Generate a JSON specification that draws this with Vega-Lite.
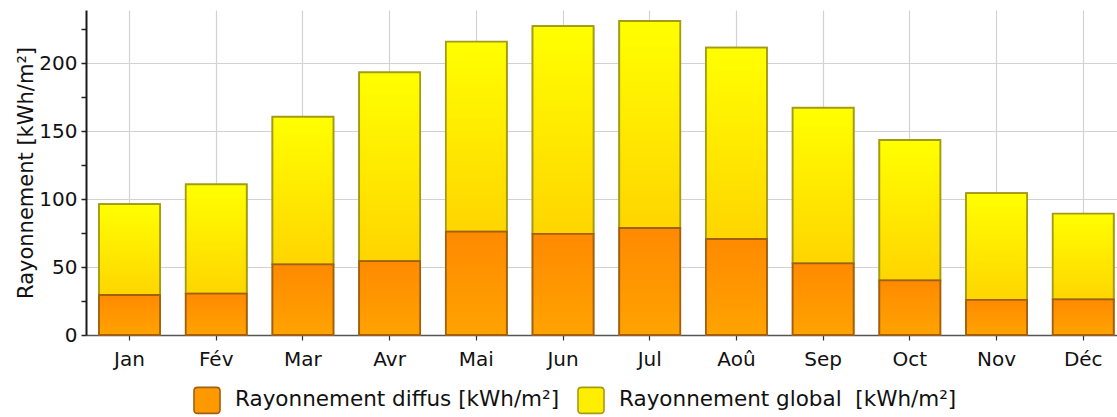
{
  "$schema": "https://vega.github.io/schema/vega-lite/v6.json",
  "width": 1031,
  "height": 325,
  "autosize": {"type": "none"},
  "padding": {"left": 86, "top": 10, "right": 0, "bottom": 82},
  "background": "white",
  "config": {
    "view": {"stroke": null},
    "font": "DejaVu Sans"
  },
  "data": {
    "values": [
      {"mois": "Jan", "diffus": 29.4, "global": 96.3},
      {"mois": "Fév", "diffus": 30.4, "global": 110.8},
      {"mois": "Mar", "diffus": 52.0, "global": 160.5},
      {"mois": "Avr", "diffus": 54.4, "global": 193.1},
      {"mois": "Mai", "diffus": 76.0, "global": 215.7},
      {"mois": "Jun", "diffus": 74.3, "global": 227.2},
      {"mois": "Jul", "diffus": 78.7, "global": 230.9},
      {"mois": "Aoû", "diffus": 70.6, "global": 211.3},
      {"mois": "Sep", "diffus": 52.7, "global": 167.1},
      {"mois": "Oct", "diffus": 40.1, "global": 143.4},
      {"mois": "Nov", "diffus": 25.9, "global": 104.3},
      {"mois": "Déc", "diffus": 26.2, "global": 89.2}
    ]
  },
  "encoding": {
    "x": {
      "field": "mois",
      "type": "nominal",
      "sort": null,
      "scale": {"type": "band", "paddingInner": 0.2964, "paddingOuter": 0.094, "align": 0.8},
      "axis": {
        "title": null,
        "labelAngle": 0,
        "labelFontSize": 20,
        "labelColor": "#111111",
        "labelPadding": 9,
        "tickSize": 5,
        "tickColor": "#333333",
        "tickWidth": 1.2,
        "domainColor": "#555555",
        "domainWidth": 1.5,
        "grid": true,
        "gridColor": "#d2d2d2",
        "gridWidth": 1.2
      }
    },
    "y": {
      "field": "diffus",
      "type": "quantitative",
      "stack": null,
      "scale": {"domain": [0, 239], "nice": false, "zero": true},
      "axis": {
        "title": "Rayonnement [kWh/m²]",
        "titleFontSize": 21,
        "titleFontWeight": "normal",
        "titleColor": "#111111",
        "titleX": -54,
        "titleBaseline": "alphabetic",
        "values": [0, 25, 50, 75, 100, 125, 150, 175, 200, 225],
        "labelExpr": "datum.value % 50 === 0 ? datum.label : ''",
        "labelFontSize": 20,
        "labelColor": "#111111",
        "labelPadding": 4,
        "tickSize": 5,
        "tickColor": "#222222",
        "tickWidth": 1.5,
        "domainColor": "#1a1a1a",
        "domainWidth": 2,
        "grid": true,
        "gridColor": "#d2d2d2",
        "gridWidth": 1.2,
        "gridOpacity": {"condition": {"test": "datum.value % 50 === 0 && datum.value > 0", "value": 1}, "value": 0}
      }
    }
  },
  "layer": [
    {
      "mark": {"type": "bar", "strokeWidth": 1.6},
      "encoding": {
        "color": {
          "datum": "Rayonnement diffus [kWh/m²]",
          "type": "nominal",
          "scale": {
            "domain": ["Rayonnement diffus [kWh/m²]", "Rayonnement global\u00a0 [kWh/m²]"],
            "range": ["#ff9900", "#ffee00"]
          },
          "legend": {
            "orient": "none",
            "legendX": 107,
            "legendY": 376,
            "direction": "horizontal",
            "title": null,
            "symbolType": "M -0.72 -1 L 0.72 -1 Q 1 -1 1 -0.72 L 1 0.72 Q 1 1 0.72 1 L -0.72 1 Q -1 1 -1 0.72 L -1 -0.72 Q -1 -1 -0.72 -1 Z",
            "symbolSize": 676,
            "symbolStrokeWidth": 1.6,
            "symbolOpacity": 1,
            "labelFontSize": 21.5,
            "labelColor": "#111111",
            "labelOffset": 14,
            "labelLimit": 400,
            "columnPadding": 14
          }
        },
        "stroke": {
          "datum": "Rayonnement diffus [kWh/m²]",
          "type": "nominal",
          "scale": {
            "domain": ["Rayonnement diffus [kWh/m²]", "Rayonnement global\u00a0 [kWh/m²]"],
            "range": ["#a0600f", "#a39b14"]
          }
        }
      }
    },
    {
      "mark": {"type": "bar", "strokeWidth": 1.6},
      "encoding": {
        "y": {"field": "global", "type": "quantitative"},
        "y2": {"field": "diffus"},
        "color": {"datum": "Rayonnement global\u00a0 [kWh/m²]", "type": "nominal"},
        "stroke": {"datum": "Rayonnement global\u00a0 [kWh/m²]", "type": "nominal"}
      }
    },
    {
      "mark": {
        "type": "bar",
        "stroke": "#a39b14",
        "strokeWidth": 1.8,
        "fill": {
          "gradient": "linear",
          "x1": 0, "y1": 0, "x2": 0, "y2": 1,
          "stops": [
            {"offset": 0, "color": "#ffff00"},
            {"offset": 1, "color": "#ffd500"}
          ]
        }
      },
      "encoding": {
        "y": {"field": "global", "type": "quantitative"},
        "y2": {"field": "diffus"}
      }
    },
    {
      "mark": {
        "type": "bar",
        "stroke": "#a0600f",
        "strokeWidth": 1.8,
        "fill": {
          "gradient": "linear",
          "x1": 0, "y1": 0, "x2": 0, "y2": 1,
          "stops": [
            {"offset": 0, "color": "#ff8a00"},
            {"offset": 1, "color": "#ffa300"}
          ]
        }
      },
      "encoding": {}
    }
  ]
}
